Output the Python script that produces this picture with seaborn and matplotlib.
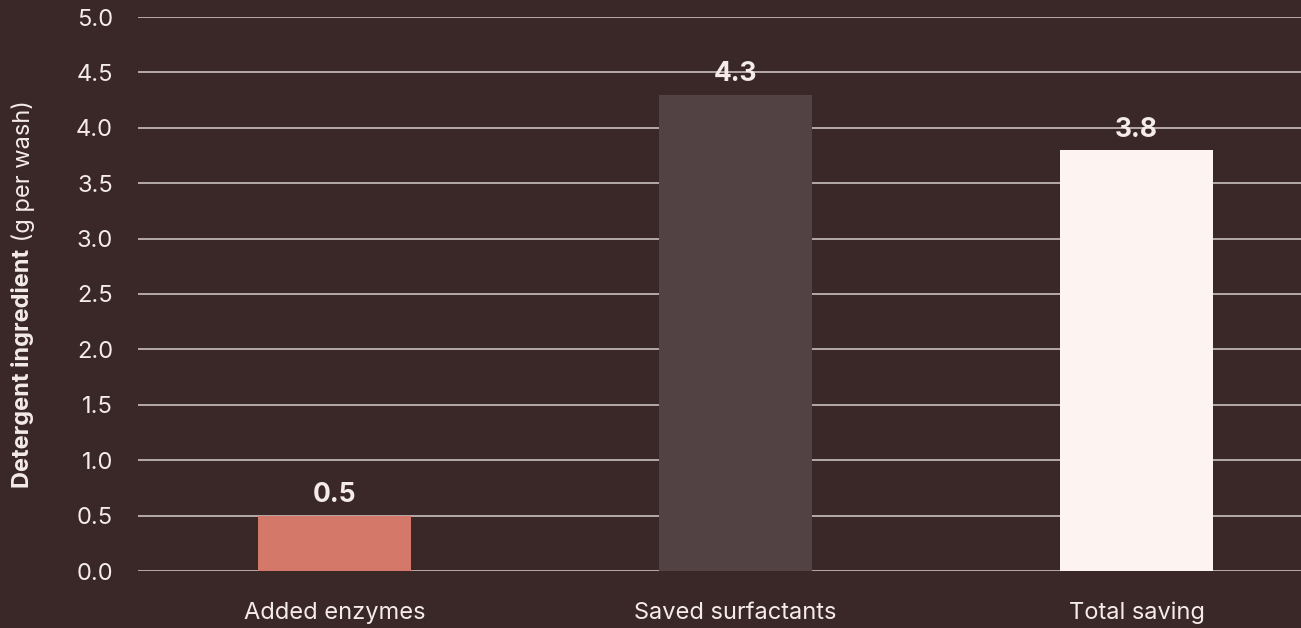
import matplotlib
matplotlib.use("Agg")
import matplotlib.pyplot as plt
import seaborn as sns
import pandas as pd

categories = ["Added enzymes", "Saved surfactants", "Total saving"]
values = [0.5, 4.3, 3.8]
bar_colors = ["#d4796a", "#524244", "#fdf4f2"]
yticks = [0.0, 0.5, 1.0, 1.5, 2.0, 2.5, 3.0, 3.5, 4.0, 4.5, 5.0]

BG = "#3a2829"
FG = "#f5ecea"

sns.set_theme(style="white")
plt.rcParams["font.family"] = ["Inter", "DejaVu Sans"]

df = pd.DataFrame({"category": categories, "value": values})

fig = plt.figure(figsize=(13.01, 6.28), dpi=100, facecolor=BG)
ax = fig.add_axes([138/1301, 1 - 571/628, (1301-138)/1301, (571-17)/628])
ax.set_facecolor(BG)

sns.barplot(data=df, x="category", y="value", hue="category", palette=bar_colors,
            width=0.38, legend=False, ax=ax, saturation=1, linewidth=0, zorder=3)

ax.set_ylim(0, 5.0)
ax.set_xlim(-0.49, 2.41)
ax.set_yticks(yticks)
ax.set_yticklabels([f"{t:.1f}" for t in yticks])
ax.grid(axis="y", color="#d6cccb", linewidth=1.1, zorder=0)
ax.set_axisbelow(True)
for s in ax.spines.values():
    s.set_visible(False)
ax.tick_params(axis="y", length=0, pad=18, labelsize=17, labelcolor=FG)
ax.tick_params(axis="x", length=0, pad=22, labelsize=17, labelcolor=FG)
ax.set_xlabel("")
ax.set_ylabel("")

for i, v in enumerate(values):
    ax.annotate(f"{v:.1f}", xy=(i, v), xytext=(0, 14.5), textcoords="offset points",
                ha="center", va="center", fontsize=19, fontweight="bold", color=FG, zorder=5)

lx = 23/1301
t1 = fig.text(lx, 0.08, "Detergent ingredient", rotation=90, fontsize=17,
              fontweight="bold", color=FG, ha="center", va="bottom")
fig.canvas.draw()
bb = t1.get_window_extent()
t2 = ax.annotate(" (g per wash)", xy=(0.5, 1.0), xycoords=t1, rotation=90, fontsize=17,
                 color=FG, ha="center", va="bottom", annotation_clip=False)
fig.canvas.draw()
bb2 = t2.get_window_extent()
total = bb2.y1 - bb.y0
center = (1 - 294/628) * fig.bbox.height
start = center - total / 2
t1.set_position((lx, start / fig.bbox.height))

fig.savefig("out.png", dpi=100, facecolor=BG)
